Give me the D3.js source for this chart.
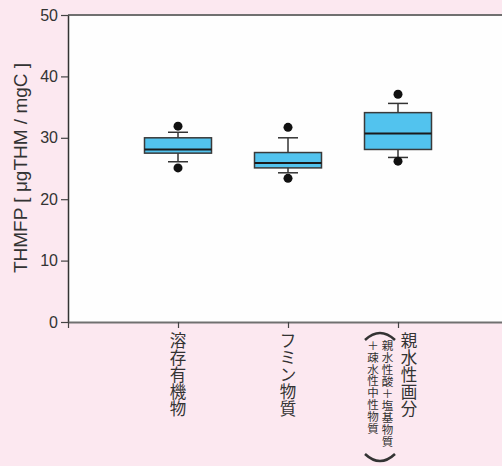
<!DOCTYPE html>
<html>
<head>
<meta charset="utf-8">
<script src="https://cdn.jsdelivr.net/npm/d3@7"></script>
<style>
	html, body { margin: 0; padding: 0; background: #fce8f0; }
	svg { display: block; }
	.tick text { font-family: "Liberation Sans", Arial, sans-serif; font-size: 16px; fill: #333; }
</style>
</head>
<body>
<div id="chart"></div>
<script>
// category labels (vertical Japanese text)
var categories = ['溶存有機物', 'フミン物質', '親水性画分'];
var subLabels = ['親水性酸＋塩基物質', '＋疎水性中性物質'];
// box statistics per category
var outLow   = [25.1, 23.4, 26.2];
var whiskLow = [26.1, 24.3, 26.8];
var q1       = [27.5, 25.1, 28.1];
var median   = [28.1, 25.9, 30.7];
var q3       = [30.0, 27.6, 34.1];
var whiskHi  = [30.9, 30.0, 35.6];
var outHi    = [31.9, 31.7, 37.1];
var yTicks = [0, 10, 20, 30, 40, 50];

var W = 502, H = 466;
var margin = {top: 15, left: 68, bottom: 144};

var svg = d3.select('#chart').append('svg')
	.attr('width', W)
	.attr('height', H);

var x = d3.scaleLinear().domain([0, (W - margin.left) / 110]).range([margin.left, W]);
var y = d3.scaleLinear().domain([0, 50]).range([H - margin.bottom, margin.top]);

// plot area
svg.append('rect')
	.attr('x', x(0))
	.attr('y', y(50))
	.attr('width', W - x(0))
	.attr('height', y(0) - y(50))
	.attr('fill', '#fefefe');

// top border
svg.append('line')
	.attr('x1', x(0)).attr('x2', W)
	.attr('y1', y(50)).attr('y2', y(50))
	.attr('stroke', '#707070')
	.attr('stroke-width', 2);

// y axis
var yAxis = svg.append('g')
	.attr('transform', 'translate(' + x(0) + ',0)')
	.call(d3.axisLeft(y).tickValues(yTicks).tickSize(7).tickPadding(3).tickSizeOuter(0));
yAxis.select('.domain').attr('stroke', '#333').attr('stroke-width', 1.5);
yAxis.selectAll('.tick line').attr('stroke', '#444').attr('stroke-width', 1.2);

// x axis
var xAxis = svg.append('g')
	.attr('transform', 'translate(0,' + y(0) + ')')
	.call(d3.axisBottom(x).tickValues([0, 1, 2, 3]).tickFormat('').tickSize(6).tickSizeOuter(0));
xAxis.select('.domain').attr('stroke', '#707070').attr('stroke-width', 2);
xAxis.selectAll('.tick line').attr('stroke', '#444').attr('stroke-width', 1.2);

// y axis title
svg.append('text')
	.attr('transform', 'translate(27,' + 168 + ') rotate(-90)')
	.attr('text-anchor', 'middle')
	.style('font-family', '"Liberation Sans", Arial, sans-serif')
	.style('font-size', '19px')
	.style('fill', '#333')
	.text('THMFP [ μgTHM / mgC ]');

// boxes
var boxW = 67, capW = 20;
var groups = svg.append('g').selectAll('g')
	.data(categories)
	.enter()
	.append('g');

groups.append('line')
	.attr('x1', function(d, i) { return x(i + 1); })
	.attr('x2', function(d, i) { return x(i + 1); })
	.attr('y1', function(d, i) { return y(whiskLow[i]); })
	.attr('y2', function(d, i) { return y(whiskHi[i]); })
	.attr('stroke', '#333').attr('stroke-width', 1.5);
[whiskLow, whiskHi].forEach(function(arr) {
	groups.append('line')
		.attr('x1', function(d, i) { return x(i + 1) - capW / 2; })
		.attr('x2', function(d, i) { return x(i + 1) + capW / 2; })
		.attr('y1', function(d, i) { return y(arr[i]); })
		.attr('y2', function(d, i) { return y(arr[i]); })
		.attr('stroke', '#333').attr('stroke-width', 1.5);
});
groups.append('rect')
	.attr('x', function(d, i) { return x(i + 1) - boxW / 2; })
	.attr('y', function(d, i) { return y(q3[i]); })
	.attr('width', boxW)
	.attr('height', function(d, i) { return y(q1[i]) - y(q3[i]); })
	.attr('fill', '#52c3ee')
	.attr('stroke', '#3a3a3a')
	.attr('stroke-width', 1.5);
groups.append('line')
	.attr('x1', function(d, i) { return x(i + 1) - boxW / 2; })
	.attr('x2', function(d, i) { return x(i + 1) + boxW / 2; })
	.attr('y1', function(d, i) { return y(median[i]); })
	.attr('y2', function(d, i) { return y(median[i]); })
	.attr('stroke', '#1a1a1a').attr('stroke-width', 2);
[outLow, outHi].forEach(function(arr) {
	groups.append('circle')
		.attr('cx', function(d, i) { return x(i + 1); })
		.attr('cy', function(d, i) { return y(arr[i]); })
		.attr('r', 4.5)
		.attr('fill', '#111');
});

// vertical text helper: one glyph per position
var drawColumn = function(str, cx, cy0, step, size) {
	var g = svg.append('g');
	Array.from(str).forEach(function(ch, k) {
		g.append('text')
			.attr('x', cx)
			.attr('y', cy0 + k * step)
			.attr('text-anchor', 'middle')
			.attr('dominant-baseline', 'central')
			.style('font-family', '"Noto Sans CJK JP", sans-serif')
			.style('font-size', size + 'px')
			.style('fill', '#333')
			.text(ch);
	});
};

drawColumn(categories[0], x(1), 340, 17, 16.5);
drawColumn(categories[1], x(2), 340, 17, 16.5);
drawColumn(categories[2], x(3) + 11, 340, 17, 16.5);
drawColumn(subLabels[0], x(3) - 10.5, 345, 12, 11.5);
drawColumn(subLabels[1], x(3) - 25, 345, 11.8, 11.5);

// brackets around the sub-label
var bx = x(3) - 18;
svg.append('path')
	.attr('d', 'M' + (bx - 15) + ',340 Q' + bx + ',326 ' + (bx + 15) + ',340')
	.attr('fill', 'none').attr('stroke', '#333').attr('stroke-width', 2.5);
svg.append('path')
	.attr('d', 'M' + (bx - 15) + ',454 Q' + bx + ',468 ' + (bx + 15) + ',454')
	.attr('fill', 'none').attr('stroke', '#333').attr('stroke-width', 2.5);
</script>
</body>
</html>
